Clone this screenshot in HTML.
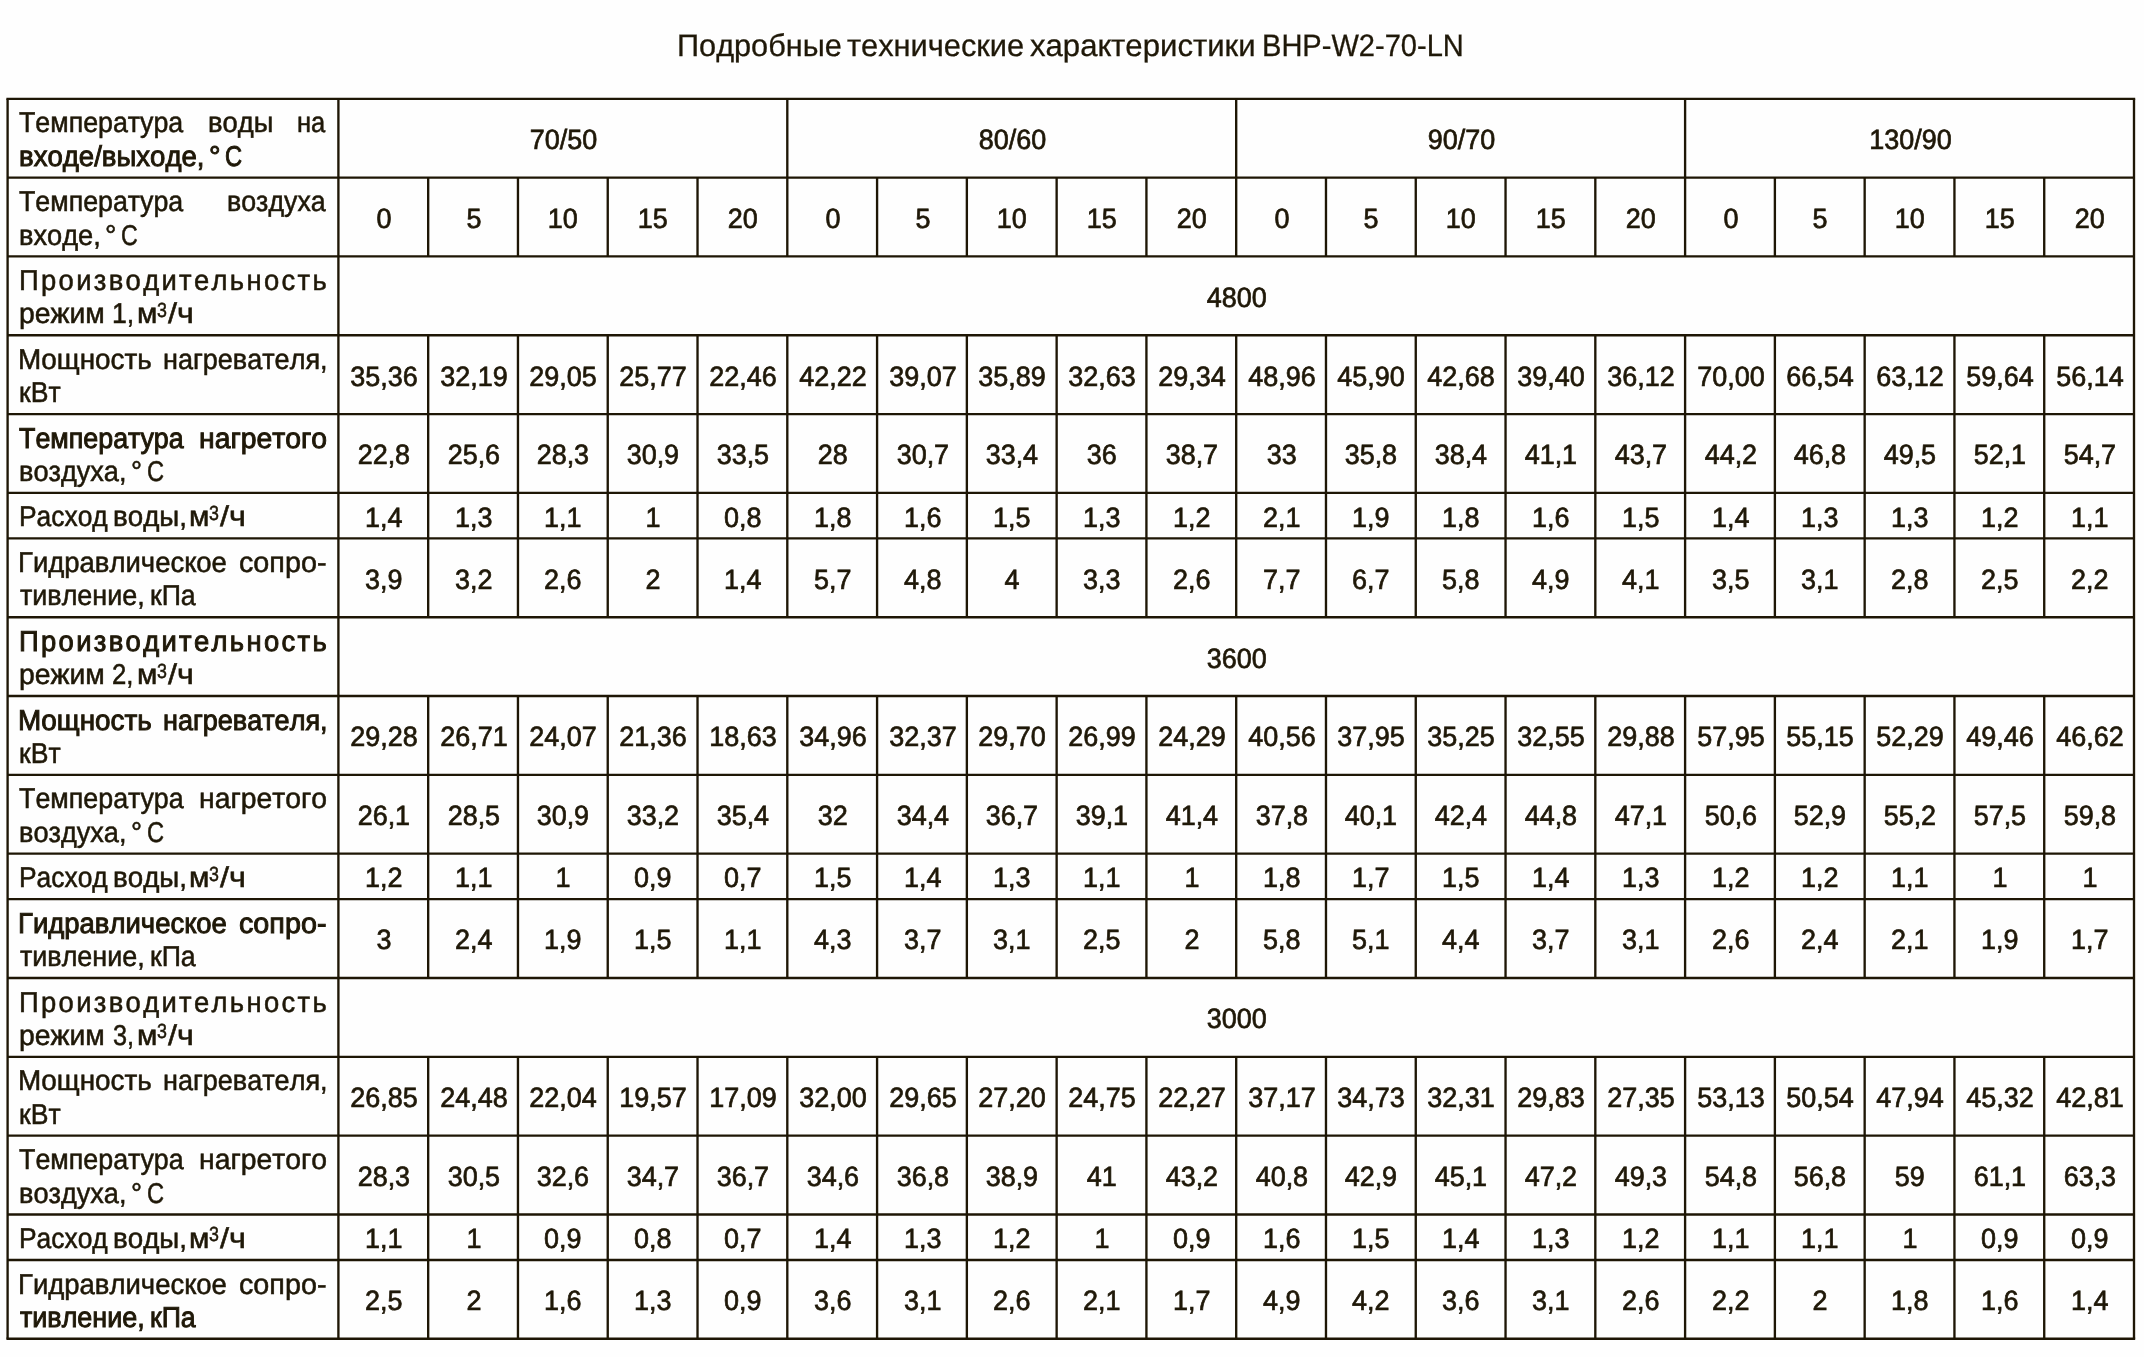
<!DOCTYPE html>
<html lang="ru"><head><meta charset="utf-8"><title>BHP-W2-70-LN</title>
<style>
html,body{margin:0;padding:0;background:#fefefe;}
body{width:2144px;height:1357px;position:relative;overflow:hidden;font-family:"Liberation Sans",sans-serif;color:#1f1808;font-kerning:none;text-rendering:geometricPrecision;}
#g{position:absolute;left:0;top:0;}
#tx{position:absolute;left:0;top:0;width:2144px;height:1357px;will-change:transform;}
.t{position:absolute;white-space:nowrap;line-height:1;-webkit-text-stroke:0.55px #1f1808;}
.c{text-align:center;font-size:27.9px;transform:scaleX(0.967);-webkit-text-stroke-width:0.7px;}
.l{font-size:28.7px;transform-origin:0 0;}
.b{-webkit-text-stroke:0.95px #1f1808;}
.sp{font-size:20.5px;}
.tt{font-size:31px;-webkit-text-stroke:0.3px #1f1808;}

</style></head><body>
<svg id="g" width="2144" height="1357" viewBox="0 0 2144 1357" xmlns="http://www.w3.org/2000/svg"><g stroke="#1e1605" stroke-width="2.35" fill="none"><path d="M6.42 98.80H2135.18"/><path d="M7.60 177.62H2134.00"/><path d="M7.60 256.44H2134.00"/><path d="M7.60 335.26H2134.00"/><path d="M7.60 414.08H2134.00"/><path d="M7.60 492.90H2134.00"/><path d="M7.60 538.40H2134.00"/><path d="M7.60 617.22H2134.00"/><path d="M7.60 696.04H2134.00"/><path d="M7.60 774.86H2134.00"/><path d="M7.60 853.68H2134.00"/><path d="M7.60 899.18H2134.00"/><path d="M7.60 978.00H2134.00"/><path d="M7.60 1056.82H2134.00"/><path d="M7.60 1135.64H2134.00"/><path d="M7.60 1214.46H2134.00"/><path d="M7.60 1259.96H2134.00"/><path d="M6.42 1338.78H2135.18"/><path d="M7.60 98.80V1338.78"/><path d="M338.40 98.80V1338.78"/><path d="M2134.00 98.80V1338.78"/><path d="M428.18 177.62V256.44"/><path d="M428.18 335.26V617.22"/><path d="M428.18 696.04V978.00"/><path d="M428.18 1056.82V1338.78"/><path d="M517.96 177.62V256.44"/><path d="M517.96 335.26V617.22"/><path d="M517.96 696.04V978.00"/><path d="M517.96 1056.82V1338.78"/><path d="M607.74 177.62V256.44"/><path d="M607.74 335.26V617.22"/><path d="M607.74 696.04V978.00"/><path d="M607.74 1056.82V1338.78"/><path d="M697.52 177.62V256.44"/><path d="M697.52 335.26V617.22"/><path d="M697.52 696.04V978.00"/><path d="M697.52 1056.82V1338.78"/><path d="M787.30 98.80V256.44"/><path d="M787.30 335.26V617.22"/><path d="M787.30 696.04V978.00"/><path d="M787.30 1056.82V1338.78"/><path d="M877.08 177.62V256.44"/><path d="M877.08 335.26V617.22"/><path d="M877.08 696.04V978.00"/><path d="M877.08 1056.82V1338.78"/><path d="M966.86 177.62V256.44"/><path d="M966.86 335.26V617.22"/><path d="M966.86 696.04V978.00"/><path d="M966.86 1056.82V1338.78"/><path d="M1056.64 177.62V256.44"/><path d="M1056.64 335.26V617.22"/><path d="M1056.64 696.04V978.00"/><path d="M1056.64 1056.82V1338.78"/><path d="M1146.42 177.62V256.44"/><path d="M1146.42 335.26V617.22"/><path d="M1146.42 696.04V978.00"/><path d="M1146.42 1056.82V1338.78"/><path d="M1236.20 98.80V256.44"/><path d="M1236.20 335.26V617.22"/><path d="M1236.20 696.04V978.00"/><path d="M1236.20 1056.82V1338.78"/><path d="M1325.98 177.62V256.44"/><path d="M1325.98 335.26V617.22"/><path d="M1325.98 696.04V978.00"/><path d="M1325.98 1056.82V1338.78"/><path d="M1415.76 177.62V256.44"/><path d="M1415.76 335.26V617.22"/><path d="M1415.76 696.04V978.00"/><path d="M1415.76 1056.82V1338.78"/><path d="M1505.54 177.62V256.44"/><path d="M1505.54 335.26V617.22"/><path d="M1505.54 696.04V978.00"/><path d="M1505.54 1056.82V1338.78"/><path d="M1595.32 177.62V256.44"/><path d="M1595.32 335.26V617.22"/><path d="M1595.32 696.04V978.00"/><path d="M1595.32 1056.82V1338.78"/><path d="M1685.10 98.80V256.44"/><path d="M1685.10 335.26V617.22"/><path d="M1685.10 696.04V978.00"/><path d="M1685.10 1056.82V1338.78"/><path d="M1774.88 177.62V256.44"/><path d="M1774.88 335.26V617.22"/><path d="M1774.88 696.04V978.00"/><path d="M1774.88 1056.82V1338.78"/><path d="M1864.66 177.62V256.44"/><path d="M1864.66 335.26V617.22"/><path d="M1864.66 696.04V978.00"/><path d="M1864.66 1056.82V1338.78"/><path d="M1954.44 177.62V256.44"/><path d="M1954.44 335.26V617.22"/><path d="M1954.44 696.04V978.00"/><path d="M1954.44 1056.82V1338.78"/><path d="M2044.22 177.62V256.44"/><path d="M2044.22 335.26V617.22"/><path d="M2044.22 696.04V978.00"/><path d="M2044.22 1056.82V1338.78"/></g></svg>
<div id="tx">
<div class="t l tt" style="left:676.66px;top:30.00px;transform:scaleX(0.9902)">Подробные</div>
<div class="t l tt" style="left:846.82px;top:30.00px;transform:scaleX(0.9928)">технические</div>
<div class="t l tt" style="left:1029.50px;top:30.00px;transform:scaleX(1.0041)">характеристики</div>
<div class="t l tt" style="left:1261.56px;top:30.00px;transform:scaleX(0.9371)">BHP-W2-70-LN</div>
<div class="t c" style="left:338.90px;top:126.00px;width:448.90px">70/50</div>
<div class="t c" style="left:787.80px;top:126.00px;width:448.90px">80/60</div>
<div class="t c" style="left:1236.70px;top:126.00px;width:448.90px">90/70</div>
<div class="t c" style="left:1685.60px;top:126.00px;width:448.90px">130/90</div>
<div class="t c" style="left:338.90px;top:205.00px;width:89.78px">0</div>
<div class="t c" style="left:428.68px;top:205.00px;width:89.78px">5</div>
<div class="t c" style="left:518.46px;top:205.00px;width:89.78px">10</div>
<div class="t c" style="left:608.24px;top:205.00px;width:89.78px">15</div>
<div class="t c" style="left:698.02px;top:205.00px;width:89.78px">20</div>
<div class="t c" style="left:787.80px;top:205.00px;width:89.78px">0</div>
<div class="t c" style="left:877.58px;top:205.00px;width:89.78px">5</div>
<div class="t c" style="left:967.36px;top:205.00px;width:89.78px">10</div>
<div class="t c" style="left:1057.14px;top:205.00px;width:89.78px">15</div>
<div class="t c" style="left:1146.92px;top:205.00px;width:89.78px">20</div>
<div class="t c" style="left:1236.70px;top:205.00px;width:89.78px">0</div>
<div class="t c" style="left:1326.48px;top:205.00px;width:89.78px">5</div>
<div class="t c" style="left:1416.26px;top:205.00px;width:89.78px">10</div>
<div class="t c" style="left:1506.04px;top:205.00px;width:89.78px">15</div>
<div class="t c" style="left:1595.82px;top:205.00px;width:89.78px">20</div>
<div class="t c" style="left:1685.60px;top:205.00px;width:89.78px">0</div>
<div class="t c" style="left:1775.38px;top:205.00px;width:89.78px">5</div>
<div class="t c" style="left:1865.16px;top:205.00px;width:89.78px">10</div>
<div class="t c" style="left:1954.94px;top:205.00px;width:89.78px">15</div>
<div class="t c" style="left:2044.72px;top:205.00px;width:89.78px">20</div>
<div class="t c" style="left:338.90px;top:284.00px;width:1795.60px">4800</div>
<div class="t c" style="left:338.90px;top:363.00px;width:89.78px">35,36</div>
<div class="t c" style="left:428.68px;top:363.00px;width:89.78px">32,19</div>
<div class="t c" style="left:518.46px;top:363.00px;width:89.78px">29,05</div>
<div class="t c" style="left:608.24px;top:363.00px;width:89.78px">25,77</div>
<div class="t c" style="left:698.02px;top:363.00px;width:89.78px">22,46</div>
<div class="t c" style="left:787.80px;top:363.00px;width:89.78px">42,22</div>
<div class="t c" style="left:877.58px;top:363.00px;width:89.78px">39,07</div>
<div class="t c" style="left:967.36px;top:363.00px;width:89.78px">35,89</div>
<div class="t c" style="left:1057.14px;top:363.00px;width:89.78px">32,63</div>
<div class="t c" style="left:1146.92px;top:363.00px;width:89.78px">29,34</div>
<div class="t c" style="left:1236.70px;top:363.00px;width:89.78px">48,96</div>
<div class="t c" style="left:1326.48px;top:363.00px;width:89.78px">45,90</div>
<div class="t c" style="left:1416.26px;top:363.00px;width:89.78px">42,68</div>
<div class="t c" style="left:1506.04px;top:363.00px;width:89.78px">39,40</div>
<div class="t c" style="left:1595.82px;top:363.00px;width:89.78px">36,12</div>
<div class="t c" style="left:1685.60px;top:363.00px;width:89.78px">70,00</div>
<div class="t c" style="left:1775.38px;top:363.00px;width:89.78px">66,54</div>
<div class="t c" style="left:1865.16px;top:363.00px;width:89.78px">63,12</div>
<div class="t c" style="left:1954.94px;top:363.00px;width:89.78px">59,64</div>
<div class="t c" style="left:2044.72px;top:363.00px;width:89.78px">56,14</div>
<div class="t c" style="left:338.90px;top:441.00px;width:89.78px">22,8</div>
<div class="t c" style="left:428.68px;top:441.00px;width:89.78px">25,6</div>
<div class="t c" style="left:518.46px;top:441.00px;width:89.78px">28,3</div>
<div class="t c" style="left:608.24px;top:441.00px;width:89.78px">30,9</div>
<div class="t c" style="left:698.02px;top:441.00px;width:89.78px">33,5</div>
<div class="t c" style="left:787.80px;top:441.00px;width:89.78px">28</div>
<div class="t c" style="left:877.58px;top:441.00px;width:89.78px">30,7</div>
<div class="t c" style="left:967.36px;top:441.00px;width:89.78px">33,4</div>
<div class="t c" style="left:1057.14px;top:441.00px;width:89.78px">36</div>
<div class="t c" style="left:1146.92px;top:441.00px;width:89.78px">38,7</div>
<div class="t c" style="left:1236.70px;top:441.00px;width:89.78px">33</div>
<div class="t c" style="left:1326.48px;top:441.00px;width:89.78px">35,8</div>
<div class="t c" style="left:1416.26px;top:441.00px;width:89.78px">38,4</div>
<div class="t c" style="left:1506.04px;top:441.00px;width:89.78px">41,1</div>
<div class="t c" style="left:1595.82px;top:441.00px;width:89.78px">43,7</div>
<div class="t c" style="left:1685.60px;top:441.00px;width:89.78px">44,2</div>
<div class="t c" style="left:1775.38px;top:441.00px;width:89.78px">46,8</div>
<div class="t c" style="left:1865.16px;top:441.00px;width:89.78px">49,5</div>
<div class="t c" style="left:1954.94px;top:441.00px;width:89.78px">52,1</div>
<div class="t c" style="left:2044.72px;top:441.00px;width:89.78px">54,7</div>
<div class="t c" style="left:338.90px;top:504.00px;width:89.78px">1,4</div>
<div class="t c" style="left:428.68px;top:504.00px;width:89.78px">1,3</div>
<div class="t c" style="left:518.46px;top:504.00px;width:89.78px">1,1</div>
<div class="t c" style="left:608.24px;top:504.00px;width:89.78px">1</div>
<div class="t c" style="left:698.02px;top:504.00px;width:89.78px">0,8</div>
<div class="t c" style="left:787.80px;top:504.00px;width:89.78px">1,8</div>
<div class="t c" style="left:877.58px;top:504.00px;width:89.78px">1,6</div>
<div class="t c" style="left:967.36px;top:504.00px;width:89.78px">1,5</div>
<div class="t c" style="left:1057.14px;top:504.00px;width:89.78px">1,3</div>
<div class="t c" style="left:1146.92px;top:504.00px;width:89.78px">1,2</div>
<div class="t c" style="left:1236.70px;top:504.00px;width:89.78px">2,1</div>
<div class="t c" style="left:1326.48px;top:504.00px;width:89.78px">1,9</div>
<div class="t c" style="left:1416.26px;top:504.00px;width:89.78px">1,8</div>
<div class="t c" style="left:1506.04px;top:504.00px;width:89.78px">1,6</div>
<div class="t c" style="left:1595.82px;top:504.00px;width:89.78px">1,5</div>
<div class="t c" style="left:1685.60px;top:504.00px;width:89.78px">1,4</div>
<div class="t c" style="left:1775.38px;top:504.00px;width:89.78px">1,3</div>
<div class="t c" style="left:1865.16px;top:504.00px;width:89.78px">1,3</div>
<div class="t c" style="left:1954.94px;top:504.00px;width:89.78px">1,2</div>
<div class="t c" style="left:2044.72px;top:504.00px;width:89.78px">1,1</div>
<div class="t c" style="left:338.90px;top:566.00px;width:89.78px">3,9</div>
<div class="t c" style="left:428.68px;top:566.00px;width:89.78px">3,2</div>
<div class="t c" style="left:518.46px;top:566.00px;width:89.78px">2,6</div>
<div class="t c" style="left:608.24px;top:566.00px;width:89.78px">2</div>
<div class="t c" style="left:698.02px;top:566.00px;width:89.78px">1,4</div>
<div class="t c" style="left:787.80px;top:566.00px;width:89.78px">5,7</div>
<div class="t c" style="left:877.58px;top:566.00px;width:89.78px">4,8</div>
<div class="t c" style="left:967.36px;top:566.00px;width:89.78px">4</div>
<div class="t c" style="left:1057.14px;top:566.00px;width:89.78px">3,3</div>
<div class="t c" style="left:1146.92px;top:566.00px;width:89.78px">2,6</div>
<div class="t c" style="left:1236.70px;top:566.00px;width:89.78px">7,7</div>
<div class="t c" style="left:1326.48px;top:566.00px;width:89.78px">6,7</div>
<div class="t c" style="left:1416.26px;top:566.00px;width:89.78px">5,8</div>
<div class="t c" style="left:1506.04px;top:566.00px;width:89.78px">4,9</div>
<div class="t c" style="left:1595.82px;top:566.00px;width:89.78px">4,1</div>
<div class="t c" style="left:1685.60px;top:566.00px;width:89.78px">3,5</div>
<div class="t c" style="left:1775.38px;top:566.00px;width:89.78px">3,1</div>
<div class="t c" style="left:1865.16px;top:566.00px;width:89.78px">2,8</div>
<div class="t c" style="left:1954.94px;top:566.00px;width:89.78px">2,5</div>
<div class="t c" style="left:2044.72px;top:566.00px;width:89.78px">2,2</div>
<div class="t c" style="left:338.90px;top:645.00px;width:1795.60px">3600</div>
<div class="t c" style="left:338.90px;top:723.00px;width:89.78px">29,28</div>
<div class="t c" style="left:428.68px;top:723.00px;width:89.78px">26,71</div>
<div class="t c" style="left:518.46px;top:723.00px;width:89.78px">24,07</div>
<div class="t c" style="left:608.24px;top:723.00px;width:89.78px">21,36</div>
<div class="t c" style="left:698.02px;top:723.00px;width:89.78px">18,63</div>
<div class="t c" style="left:787.80px;top:723.00px;width:89.78px">34,96</div>
<div class="t c" style="left:877.58px;top:723.00px;width:89.78px">32,37</div>
<div class="t c" style="left:967.36px;top:723.00px;width:89.78px">29,70</div>
<div class="t c" style="left:1057.14px;top:723.00px;width:89.78px">26,99</div>
<div class="t c" style="left:1146.92px;top:723.00px;width:89.78px">24,29</div>
<div class="t c" style="left:1236.70px;top:723.00px;width:89.78px">40,56</div>
<div class="t c" style="left:1326.48px;top:723.00px;width:89.78px">37,95</div>
<div class="t c" style="left:1416.26px;top:723.00px;width:89.78px">35,25</div>
<div class="t c" style="left:1506.04px;top:723.00px;width:89.78px">32,55</div>
<div class="t c" style="left:1595.82px;top:723.00px;width:89.78px">29,88</div>
<div class="t c" style="left:1685.60px;top:723.00px;width:89.78px">57,95</div>
<div class="t c" style="left:1775.38px;top:723.00px;width:89.78px">55,15</div>
<div class="t c" style="left:1865.16px;top:723.00px;width:89.78px">52,29</div>
<div class="t c" style="left:1954.94px;top:723.00px;width:89.78px">49,46</div>
<div class="t c" style="left:2044.72px;top:723.00px;width:89.78px">46,62</div>
<div class="t c" style="left:338.90px;top:802.00px;width:89.78px">26,1</div>
<div class="t c" style="left:428.68px;top:802.00px;width:89.78px">28,5</div>
<div class="t c" style="left:518.46px;top:802.00px;width:89.78px">30,9</div>
<div class="t c" style="left:608.24px;top:802.00px;width:89.78px">33,2</div>
<div class="t c" style="left:698.02px;top:802.00px;width:89.78px">35,4</div>
<div class="t c" style="left:787.80px;top:802.00px;width:89.78px">32</div>
<div class="t c" style="left:877.58px;top:802.00px;width:89.78px">34,4</div>
<div class="t c" style="left:967.36px;top:802.00px;width:89.78px">36,7</div>
<div class="t c" style="left:1057.14px;top:802.00px;width:89.78px">39,1</div>
<div class="t c" style="left:1146.92px;top:802.00px;width:89.78px">41,4</div>
<div class="t c" style="left:1236.70px;top:802.00px;width:89.78px">37,8</div>
<div class="t c" style="left:1326.48px;top:802.00px;width:89.78px">40,1</div>
<div class="t c" style="left:1416.26px;top:802.00px;width:89.78px">42,4</div>
<div class="t c" style="left:1506.04px;top:802.00px;width:89.78px">44,8</div>
<div class="t c" style="left:1595.82px;top:802.00px;width:89.78px">47,1</div>
<div class="t c" style="left:1685.60px;top:802.00px;width:89.78px">50,6</div>
<div class="t c" style="left:1775.38px;top:802.00px;width:89.78px">52,9</div>
<div class="t c" style="left:1865.16px;top:802.00px;width:89.78px">55,2</div>
<div class="t c" style="left:1954.94px;top:802.00px;width:89.78px">57,5</div>
<div class="t c" style="left:2044.72px;top:802.00px;width:89.78px">59,8</div>
<div class="t c" style="left:338.90px;top:864.00px;width:89.78px">1,2</div>
<div class="t c" style="left:428.68px;top:864.00px;width:89.78px">1,1</div>
<div class="t c" style="left:518.46px;top:864.00px;width:89.78px">1</div>
<div class="t c" style="left:608.24px;top:864.00px;width:89.78px">0,9</div>
<div class="t c" style="left:698.02px;top:864.00px;width:89.78px">0,7</div>
<div class="t c" style="left:787.80px;top:864.00px;width:89.78px">1,5</div>
<div class="t c" style="left:877.58px;top:864.00px;width:89.78px">1,4</div>
<div class="t c" style="left:967.36px;top:864.00px;width:89.78px">1,3</div>
<div class="t c" style="left:1057.14px;top:864.00px;width:89.78px">1,1</div>
<div class="t c" style="left:1146.92px;top:864.00px;width:89.78px">1</div>
<div class="t c" style="left:1236.70px;top:864.00px;width:89.78px">1,8</div>
<div class="t c" style="left:1326.48px;top:864.00px;width:89.78px">1,7</div>
<div class="t c" style="left:1416.26px;top:864.00px;width:89.78px">1,5</div>
<div class="t c" style="left:1506.04px;top:864.00px;width:89.78px">1,4</div>
<div class="t c" style="left:1595.82px;top:864.00px;width:89.78px">1,3</div>
<div class="t c" style="left:1685.60px;top:864.00px;width:89.78px">1,2</div>
<div class="t c" style="left:1775.38px;top:864.00px;width:89.78px">1,2</div>
<div class="t c" style="left:1865.16px;top:864.00px;width:89.78px">1,1</div>
<div class="t c" style="left:1954.94px;top:864.00px;width:89.78px">1</div>
<div class="t c" style="left:2044.72px;top:864.00px;width:89.78px">1</div>
<div class="t c" style="left:338.90px;top:926.00px;width:89.78px">3</div>
<div class="t c" style="left:428.68px;top:926.00px;width:89.78px">2,4</div>
<div class="t c" style="left:518.46px;top:926.00px;width:89.78px">1,9</div>
<div class="t c" style="left:608.24px;top:926.00px;width:89.78px">1,5</div>
<div class="t c" style="left:698.02px;top:926.00px;width:89.78px">1,1</div>
<div class="t c" style="left:787.80px;top:926.00px;width:89.78px">4,3</div>
<div class="t c" style="left:877.58px;top:926.00px;width:89.78px">3,7</div>
<div class="t c" style="left:967.36px;top:926.00px;width:89.78px">3,1</div>
<div class="t c" style="left:1057.14px;top:926.00px;width:89.78px">2,5</div>
<div class="t c" style="left:1146.92px;top:926.00px;width:89.78px">2</div>
<div class="t c" style="left:1236.70px;top:926.00px;width:89.78px">5,8</div>
<div class="t c" style="left:1326.48px;top:926.00px;width:89.78px">5,1</div>
<div class="t c" style="left:1416.26px;top:926.00px;width:89.78px">4,4</div>
<div class="t c" style="left:1506.04px;top:926.00px;width:89.78px">3,7</div>
<div class="t c" style="left:1595.82px;top:926.00px;width:89.78px">3,1</div>
<div class="t c" style="left:1685.60px;top:926.00px;width:89.78px">2,6</div>
<div class="t c" style="left:1775.38px;top:926.00px;width:89.78px">2,4</div>
<div class="t c" style="left:1865.16px;top:926.00px;width:89.78px">2,1</div>
<div class="t c" style="left:1954.94px;top:926.00px;width:89.78px">1,9</div>
<div class="t c" style="left:2044.72px;top:926.00px;width:89.78px">1,7</div>
<div class="t c" style="left:338.90px;top:1005.00px;width:1795.60px">3000</div>
<div class="t c" style="left:338.90px;top:1084.00px;width:89.78px">26,85</div>
<div class="t c" style="left:428.68px;top:1084.00px;width:89.78px">24,48</div>
<div class="t c" style="left:518.46px;top:1084.00px;width:89.78px">22,04</div>
<div class="t c" style="left:608.24px;top:1084.00px;width:89.78px">19,57</div>
<div class="t c" style="left:698.02px;top:1084.00px;width:89.78px">17,09</div>
<div class="t c" style="left:787.80px;top:1084.00px;width:89.78px">32,00</div>
<div class="t c" style="left:877.58px;top:1084.00px;width:89.78px">29,65</div>
<div class="t c" style="left:967.36px;top:1084.00px;width:89.78px">27,20</div>
<div class="t c" style="left:1057.14px;top:1084.00px;width:89.78px">24,75</div>
<div class="t c" style="left:1146.92px;top:1084.00px;width:89.78px">22,27</div>
<div class="t c" style="left:1236.70px;top:1084.00px;width:89.78px">37,17</div>
<div class="t c" style="left:1326.48px;top:1084.00px;width:89.78px">34,73</div>
<div class="t c" style="left:1416.26px;top:1084.00px;width:89.78px">32,31</div>
<div class="t c" style="left:1506.04px;top:1084.00px;width:89.78px">29,83</div>
<div class="t c" style="left:1595.82px;top:1084.00px;width:89.78px">27,35</div>
<div class="t c" style="left:1685.60px;top:1084.00px;width:89.78px">53,13</div>
<div class="t c" style="left:1775.38px;top:1084.00px;width:89.78px">50,54</div>
<div class="t c" style="left:1865.16px;top:1084.00px;width:89.78px">47,94</div>
<div class="t c" style="left:1954.94px;top:1084.00px;width:89.78px">45,32</div>
<div class="t c" style="left:2044.72px;top:1084.00px;width:89.78px">42,81</div>
<div class="t c" style="left:338.90px;top:1163.00px;width:89.78px">28,3</div>
<div class="t c" style="left:428.68px;top:1163.00px;width:89.78px">30,5</div>
<div class="t c" style="left:518.46px;top:1163.00px;width:89.78px">32,6</div>
<div class="t c" style="left:608.24px;top:1163.00px;width:89.78px">34,7</div>
<div class="t c" style="left:698.02px;top:1163.00px;width:89.78px">36,7</div>
<div class="t c" style="left:787.80px;top:1163.00px;width:89.78px">34,6</div>
<div class="t c" style="left:877.58px;top:1163.00px;width:89.78px">36,8</div>
<div class="t c" style="left:967.36px;top:1163.00px;width:89.78px">38,9</div>
<div class="t c" style="left:1057.14px;top:1163.00px;width:89.78px">41</div>
<div class="t c" style="left:1146.92px;top:1163.00px;width:89.78px">43,2</div>
<div class="t c" style="left:1236.70px;top:1163.00px;width:89.78px">40,8</div>
<div class="t c" style="left:1326.48px;top:1163.00px;width:89.78px">42,9</div>
<div class="t c" style="left:1416.26px;top:1163.00px;width:89.78px">45,1</div>
<div class="t c" style="left:1506.04px;top:1163.00px;width:89.78px">47,2</div>
<div class="t c" style="left:1595.82px;top:1163.00px;width:89.78px">49,3</div>
<div class="t c" style="left:1685.60px;top:1163.00px;width:89.78px">54,8</div>
<div class="t c" style="left:1775.38px;top:1163.00px;width:89.78px">56,8</div>
<div class="t c" style="left:1865.16px;top:1163.00px;width:89.78px">59</div>
<div class="t c" style="left:1954.94px;top:1163.00px;width:89.78px">61,1</div>
<div class="t c" style="left:2044.72px;top:1163.00px;width:89.78px">63,3</div>
<div class="t c" style="left:338.90px;top:1225.00px;width:89.78px">1,1</div>
<div class="t c" style="left:428.68px;top:1225.00px;width:89.78px">1</div>
<div class="t c" style="left:518.46px;top:1225.00px;width:89.78px">0,9</div>
<div class="t c" style="left:608.24px;top:1225.00px;width:89.78px">0,8</div>
<div class="t c" style="left:698.02px;top:1225.00px;width:89.78px">0,7</div>
<div class="t c" style="left:787.80px;top:1225.00px;width:89.78px">1,4</div>
<div class="t c" style="left:877.58px;top:1225.00px;width:89.78px">1,3</div>
<div class="t c" style="left:967.36px;top:1225.00px;width:89.78px">1,2</div>
<div class="t c" style="left:1057.14px;top:1225.00px;width:89.78px">1</div>
<div class="t c" style="left:1146.92px;top:1225.00px;width:89.78px">0,9</div>
<div class="t c" style="left:1236.70px;top:1225.00px;width:89.78px">1,6</div>
<div class="t c" style="left:1326.48px;top:1225.00px;width:89.78px">1,5</div>
<div class="t c" style="left:1416.26px;top:1225.00px;width:89.78px">1,4</div>
<div class="t c" style="left:1506.04px;top:1225.00px;width:89.78px">1,3</div>
<div class="t c" style="left:1595.82px;top:1225.00px;width:89.78px">1,2</div>
<div class="t c" style="left:1685.60px;top:1225.00px;width:89.78px">1,1</div>
<div class="t c" style="left:1775.38px;top:1225.00px;width:89.78px">1,1</div>
<div class="t c" style="left:1865.16px;top:1225.00px;width:89.78px">1</div>
<div class="t c" style="left:1954.94px;top:1225.00px;width:89.78px">0,9</div>
<div class="t c" style="left:2044.72px;top:1225.00px;width:89.78px">0,9</div>
<div class="t c" style="left:338.90px;top:1287.00px;width:89.78px">2,5</div>
<div class="t c" style="left:428.68px;top:1287.00px;width:89.78px">2</div>
<div class="t c" style="left:518.46px;top:1287.00px;width:89.78px">1,6</div>
<div class="t c" style="left:608.24px;top:1287.00px;width:89.78px">1,3</div>
<div class="t c" style="left:698.02px;top:1287.00px;width:89.78px">0,9</div>
<div class="t c" style="left:787.80px;top:1287.00px;width:89.78px">3,6</div>
<div class="t c" style="left:877.58px;top:1287.00px;width:89.78px">3,1</div>
<div class="t c" style="left:967.36px;top:1287.00px;width:89.78px">2,6</div>
<div class="t c" style="left:1057.14px;top:1287.00px;width:89.78px">2,1</div>
<div class="t c" style="left:1146.92px;top:1287.00px;width:89.78px">1,7</div>
<div class="t c" style="left:1236.70px;top:1287.00px;width:89.78px">4,9</div>
<div class="t c" style="left:1326.48px;top:1287.00px;width:89.78px">4,2</div>
<div class="t c" style="left:1416.26px;top:1287.00px;width:89.78px">3,6</div>
<div class="t c" style="left:1506.04px;top:1287.00px;width:89.78px">3,1</div>
<div class="t c" style="left:1595.82px;top:1287.00px;width:89.78px">2,6</div>
<div class="t c" style="left:1685.60px;top:1287.00px;width:89.78px">2,2</div>
<div class="t c" style="left:1775.38px;top:1287.00px;width:89.78px">2</div>
<div class="t c" style="left:1865.16px;top:1287.00px;width:89.78px">1,8</div>
<div class="t c" style="left:1954.94px;top:1287.00px;width:89.78px">1,6</div>
<div class="t c" style="left:2044.72px;top:1287.00px;width:89.78px">1,4</div>
<div class="t l" style="left:19.09px;top:109.00px;transform:scaleX(0.9333)">Температура</div>
<div class="t l" style="left:208.10px;top:109.00px;transform:scaleX(0.9523)">воды</div>
<div class="t l" style="left:297.01px;top:109.00px;transform:scaleX(0.8901)">на</div>
<div class="t l b" style="left:19.38px;top:143.00px;transform:scaleX(0.9612)">входе/выходе,</div>
<div class="t l b" style="left:208.58px;top:143.00px;transform:scaleX(1.0067)">°</div>
<div class="t l b" style="left:224.96px;top:143.00px;transform:scaleX(0.8237)">C</div>
<div class="t l" style="left:19.09px;top:188.00px;transform:scaleX(0.9333)">Температура</div>
<div class="t l" style="left:226.63px;top:188.00px;transform:scaleX(0.9330)">воздуха</div>
<div class="t l" style="left:19.40px;top:222.00px;transform:scaleX(0.9492)">входе,</div>
<div class="t l" style="left:105.20px;top:222.00px;transform:scaleX(0.9948)">°</div>
<div class="t l" style="left:121.38px;top:222.00px;transform:scaleX(0.8075)">C</div>
<div class="t l" style="left:18.97px;top:267.00px;transform:scaleX(0.9550);letter-spacing:2.440px">Производительность</div>
<div class="t l" style="left:19.47px;top:300.00px;transform:scaleX(0.9885)">режим</div>
<div class="t l" style="left:111.55px;top:300.00px;transform:scaleX(0.9300)">1,</div>
<div class="t l" style="left:137.35px;top:300.00px;transform:scaleX(1.0331)">м</div>
<div class="t l sp" style="left:157.49px;top:301.00px;transform:scaleX(0.8696)">3</div>
<div class="t l" style="left:167.93px;top:300.00px;transform:scaleX(1.1303)">/ч</div>
<div class="t l" style="left:18.41px;top:346.00px;transform:scaleX(0.9717)">Мощность</div>
<div class="t l" style="left:163.41px;top:346.00px;transform:scaleX(0.9419)">нагревателя,</div>
<div class="t l" style="left:19.49px;top:379.00px;transform:scaleX(0.9272)">кВт</div>
<div class="t l b" style="left:19.08px;top:425.00px;transform:scaleX(0.9356)">Температура</div>
<div class="t l b" style="left:198.73px;top:425.00px;transform:scaleX(0.9871)">нагретого</div>
<div class="t l" style="left:19.41px;top:458.00px;transform:scaleX(0.9454)">воздуха,</div>
<div class="t l" style="left:130.95px;top:458.00px;transform:scaleX(0.9593)">°</div>
<div class="t l" style="left:146.76px;top:458.00px;transform:scaleX(0.8237)">C</div>
<div class="t l" style="left:18.52px;top:503.00px;transform:scaleX(0.9196)">Расход</div>
<div class="t l" style="left:112.97px;top:503.00px;transform:scaleX(0.9670)">воды,</div>
<div class="t l" style="left:189.35px;top:503.00px;transform:scaleX(1.0331)">м</div>
<div class="t l sp" style="left:209.49px;top:504.00px;transform:scaleX(0.8696)">3</div>
<div class="t l" style="left:219.93px;top:503.00px;transform:scaleX(1.1350)">/ч</div>
<div class="t l" style="left:18.44px;top:549.00px;transform:scaleX(0.9582)">Гидравлическое</div>
<div class="t l" style="left:239.38px;top:549.00px;transform:scaleX(1.0019)">сопро-</div>
<div class="t l" style="left:20.23px;top:582.00px;transform:scaleX(0.9380)">тивление,</div>
<div class="t l" style="left:150.29px;top:582.00px;transform:scaleX(0.9304)">кПа</div>
<div class="t l b" style="left:18.97px;top:628.00px;transform:scaleX(0.9550);letter-spacing:2.440px">Производительность</div>
<div class="t l" style="left:19.47px;top:661.00px;transform:scaleX(0.9885)">режим</div>
<div class="t l" style="left:112.29px;top:661.00px;transform:scaleX(0.8960)">2,</div>
<div class="t l" style="left:137.35px;top:661.00px;transform:scaleX(1.0331)">м</div>
<div class="t l sp" style="left:157.49px;top:662.00px;transform:scaleX(0.8696)">3</div>
<div class="t l" style="left:167.93px;top:661.00px;transform:scaleX(1.1303)">/ч</div>
<div class="t l b" style="left:18.41px;top:707.00px;transform:scaleX(0.9717)">Мощность</div>
<div class="t l b" style="left:163.41px;top:707.00px;transform:scaleX(0.9419)">нагревателя,</div>
<div class="t l" style="left:19.49px;top:740.00px;transform:scaleX(0.9272)">кВт</div>
<div class="t l" style="left:19.08px;top:785.00px;transform:scaleX(0.9356)">Температура</div>
<div class="t l" style="left:198.73px;top:785.00px;transform:scaleX(0.9871)">нагретого</div>
<div class="t l" style="left:19.41px;top:819.00px;transform:scaleX(0.9454)">воздуха,</div>
<div class="t l" style="left:130.95px;top:819.00px;transform:scaleX(0.9593)">°</div>
<div class="t l" style="left:146.76px;top:819.00px;transform:scaleX(0.8237)">C</div>
<div class="t l" style="left:18.52px;top:864.00px;transform:scaleX(0.9196)">Расход</div>
<div class="t l" style="left:112.97px;top:864.00px;transform:scaleX(0.9670)">воды,</div>
<div class="t l" style="left:189.35px;top:864.00px;transform:scaleX(1.0331)">м</div>
<div class="t l sp" style="left:209.49px;top:865.00px;transform:scaleX(0.8696)">3</div>
<div class="t l" style="left:219.93px;top:864.00px;transform:scaleX(1.1350)">/ч</div>
<div class="t l b" style="left:18.44px;top:910.00px;transform:scaleX(0.9582)">Гидравлическое</div>
<div class="t l b" style="left:239.38px;top:910.00px;transform:scaleX(1.0019)">сопро-</div>
<div class="t l" style="left:20.23px;top:943.00px;transform:scaleX(0.9380)">тивление,</div>
<div class="t l" style="left:150.29px;top:943.00px;transform:scaleX(0.9304)">кПа</div>
<div class="t l" style="left:18.97px;top:989.00px;transform:scaleX(0.9550);letter-spacing:2.440px">Производительность</div>
<div class="t l" style="left:19.47px;top:1022.00px;transform:scaleX(0.9885)">режим</div>
<div class="t l" style="left:112.61px;top:1022.00px;transform:scaleX(0.8808)">3,</div>
<div class="t l" style="left:137.35px;top:1022.00px;transform:scaleX(1.0331)">м</div>
<div class="t l sp" style="left:157.49px;top:1022.00px;transform:scaleX(0.8696)">3</div>
<div class="t l" style="left:167.93px;top:1022.00px;transform:scaleX(1.1303)">/ч</div>
<div class="t l" style="left:18.41px;top:1067.00px;transform:scaleX(0.9717)">Мощность</div>
<div class="t l" style="left:163.41px;top:1067.00px;transform:scaleX(0.9419)">нагревателя,</div>
<div class="t l" style="left:19.49px;top:1101.00px;transform:scaleX(0.9272)">кВт</div>
<div class="t l" style="left:19.08px;top:1146.00px;transform:scaleX(0.9356)">Температура</div>
<div class="t l" style="left:198.73px;top:1146.00px;transform:scaleX(0.9871)">нагретого</div>
<div class="t l" style="left:19.41px;top:1180.00px;transform:scaleX(0.9454)">воздуха,</div>
<div class="t l" style="left:130.95px;top:1180.00px;transform:scaleX(0.9593)">°</div>
<div class="t l" style="left:146.76px;top:1180.00px;transform:scaleX(0.8237)">C</div>
<div class="t l" style="left:18.52px;top:1225.00px;transform:scaleX(0.9196)">Расход</div>
<div class="t l" style="left:112.97px;top:1225.00px;transform:scaleX(0.9670)">воды,</div>
<div class="t l" style="left:189.35px;top:1225.00px;transform:scaleX(1.0331)">м</div>
<div class="t l sp" style="left:209.49px;top:1225.00px;transform:scaleX(0.8696)">3</div>
<div class="t l" style="left:219.93px;top:1225.00px;transform:scaleX(1.1350)">/ч</div>
<div class="t l" style="left:18.44px;top:1271.00px;transform:scaleX(0.9582)">Гидравлическое</div>
<div class="t l" style="left:239.38px;top:1271.00px;transform:scaleX(1.0019)">сопро-</div>
<div class="t l b" style="left:20.23px;top:1304.00px;transform:scaleX(0.9380)">тивление,</div>
<div class="t l b" style="left:150.29px;top:1304.00px;transform:scaleX(0.9304)">кПа</div>
</div>
</body></html>
